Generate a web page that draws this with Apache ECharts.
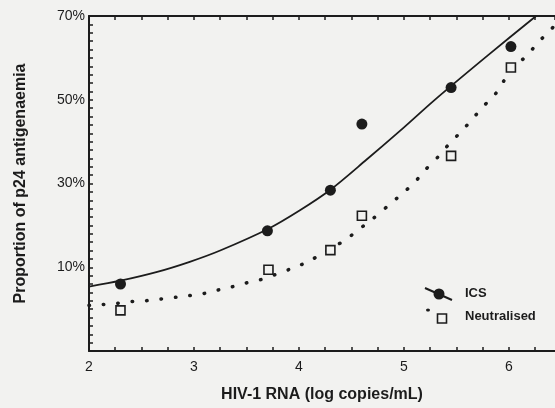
<!DOCTYPE html>
<html style="height: 100%;">
<head>
<meta charset="utf-8">
<title>p24 antigenaemia vs HIV-1 RNA</title>
<script src="https://cdn.jsdelivr.net/npm/echarts@6/dist/echarts.min.js"></script>
</head>
<body style="height: 100%; margin: 0; background: #f2f2f0;">
<div id="container" style="width: 555px; height: 408px;"></div>
<script type="text/javascript">
// points (x = log copies/mL, y = %)
var icsX = [2.30, 3.70, 4.30, 4.60, 5.45, 6.02];
var icsY = [6.0, 18.7, 28.4, 44.2, 52.9, 62.7];
var neuX = [2.30, 3.71, 4.30, 4.60, 5.45, 6.02];
var neuY = [-0.3, 9.4, 14.1, 22.3, 36.6, 57.7];

// fitted curves
var icsFitX = [2.0, 2.3, 2.65, 2.96, 3.25, 3.71, 4.01, 4.3, 4.64, 4.96, 5.3, 5.8, 6.26];
var icsFitY = [5.4, 6.8, 8.9, 11.3, 14.0, 19.2, 23.6, 28.5, 35.6, 42.5, 50.1, 60.6, 70.0];
var neuFitX = [2.0, 2.13, 2.27, 2.40, 2.54, 2.68, 2.82, 2.95, 3.09, 3.22, 3.36, 3.49, 3.63, 3.77, 3.91,
               4.04, 4.18, 4.44, 4.58, 4.71, 4.85, 4.99, 5.10, 5.21, 5.32, 5.43, 5.55, 5.65, 5.76,
               5.87, 5.95, 6.04, 6.17, 6.28, 6.39, 6.44];
var neuFitY = [0.9, 1.1, 1.4, 1.8, 2.0, 2.4, 2.8, 3.2, 3.7, 4.5, 5.3, 6.2, 7.0, 8.2, 9.5,
               10.8, 12.6, 16.5, 19.2, 21.7, 24.7, 27.7, 30.2, 33.4, 36.2, 39.4, 42.5, 45.3, 48.5,
               51.3, 54.4, 57.6, 60.5, 63.7, 66.5, 67.8];

function zip(a, b) {
  return a.map(function (v, i) { return [v, b[i]]; });
}

var ink = '#1c1c1c';
var bg = '#f2f2f0';
var font = 'Liberation Sans, Arial, sans-serif';

var dom = document.getElementById('container');
var myChart = echarts.init(dom);

var xCommon = {
  type: 'value',
  min: 2,
  max: 6.44,
  interval: 0.25,
  splitLine: { show: false },
  axisLine: { show: true, onZero: false, lineStyle: { color: ink, width: 2 } },
  axisTick: { show: true, inside: true, length: 4, interval: 0, lineStyle: { color: ink, width: 1.5 } }
};

var option = {
  backgroundColor: bg,
  animation: false,
  grid: { left: 89, top: 16, right: 0, bottom: 55, containLabel: false },
  xAxis: [
    Object.assign({}, xCommon, {
      position: 'bottom',
      name: 'HIV-1 RNA (log copies/mL)',
      nameLocation: 'middle',
      nameGap: 36,
      nameTextStyle: { color: ink, fontFamily: font, fontSize: 16, fontWeight: 'bold' },
      axisLabel: {
        interval: 0,
        margin: 9,
        showMaxLabel: false,
        color: ink,
        fontFamily: font,
        fontSize: 14,
        formatter: function (v) {
          return Math.abs(v - Math.round(v)) < 1e-6 ? String(Math.round(v)) : '';
        }
      }
    }),
    Object.assign({}, xCommon, {
      position: 'top',
      axisLabel: { show: false }
    })
  ],
  yAxis: {
    type: 'value',
    min: -10,
    max: 70,
    interval: 2,
    name: 'Proportion of p24 antigenaemia',
    nameLocation: 'middle',
    nameGap: 60,
    nameTextStyle: { color: ink, fontFamily: font, fontSize: 16, fontWeight: 'bold' },
    splitLine: { show: false },
    axisLine: { show: true, onZero: false, lineStyle: { color: ink, width: 2 } },
    axisTick: { show: true, inside: true, length: 4, interval: 0, lineStyle: { color: ink, width: 1.5 } },
    axisLabel: {
      interval: 0,
      margin: 4,
      color: ink,
      fontFamily: font,
      fontSize: 14,
      formatter: function (v) {
        var r = Math.round(v);
        return (r > 0 && r % 20 === 10) ? r + '%' : '';
      }
    }
  },
  series: [
    {
      name: 'ICS fit',
      type: 'line',
      data: zip(icsFitX, icsFitY),
      smooth: 0.3,
      showSymbol: false,
      lineStyle: { color: ink, width: 1.8 },
      z: 2
    },
    {
      name: 'Neutralised fit',
      type: 'line',
      data: zip(neuFitX, neuFitY),
      smooth: 0.2,
      showSymbol: false,
      lineStyle: { color: ink, width: 3.5, type: [0.5, 14], cap: 'round' },
      z: 2
    },
    {
      name: 'ICS',
      type: 'scatter',
      data: zip(icsX, icsY),
      symbol: 'circle',
      symbolSize: 11,
      itemStyle: { color: ink, opacity: 1 },
      z: 3
    },
    {
      name: 'Neutralised',
      type: 'scatter',
      data: zip(neuX, neuY),
      symbol: 'rect',
      symbolSize: 9,
      itemStyle: { color: bg, borderColor: ink, borderWidth: 1.6, opacity: 1 },
      z: 3
    }
  ],
  graphic: [
    { type: 'line', shape: { x1: 425, y1: 288, x2: 452, y2: 300 }, style: { stroke: ink, lineWidth: 2 } },
    { type: 'circle', shape: { cx: 439, cy: 294, r: 5.5 }, style: { fill: ink } },
    { type: 'text', left: 465, top: 287, style: { text: 'ICS', fill: ink, font: 'bold 13px ' + font } },
    { type: 'ellipse', shape: { cx: 428, cy: 310, rx: 2, ry: 1.6 }, style: { fill: ink } },
    { type: 'rect', shape: { x: 437.5, y: 314, width: 9, height: 9 }, style: { fill: bg, stroke: ink, lineWidth: 1.6 } },
    { type: 'text', left: 465, top: 310, style: { text: 'Neutralised', fill: ink, font: 'bold 13px ' + font } }
  ]
};

myChart.setOption(option);
</script>
</body>
</html>
